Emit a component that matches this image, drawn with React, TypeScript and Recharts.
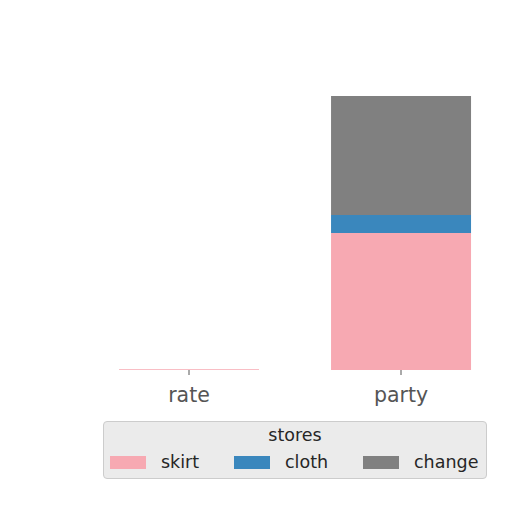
import React from "react";
import { BarChart, Bar, XAxis, YAxis, Legend } from "recharts";

const categories = ["rate", "party"];
const skirt = [0.4, 68.5];
const cloth = [0, 9];
const change = [0, 59.5];

const seriesNames = ["skirt", "cloth", "change"];
const seriesColors = ["#f7a9b2", "#3a87bd", "#808080"];

const data = categories.map((c, i) => ({
  name: c,
  skirt: skirt[i],
  cloth: cloth[i],
  change: change[i],
}));

const font = "'DejaVu Sans', sans-serif";

function LegendBox() {
  return (
    <div
      style={{
        width: 384,
        height: 58,
        background: "#ebebeb",
        border: "1px solid #cccccc",
        borderRadius: 4,
        boxSizing: "border-box",
        fontFamily: font,
        color: "#262626",
        position: "relative",
      }}
    >
      <div style={{ textAlign: "center", fontSize: 17.5, marginTop: 3 }}>stores</div>
      <div style={{ position: "absolute", top: 30, left: 6, display: "flex" }}>
        {seriesNames.map((n, i) => (
          <div key={n} style={{ display: "flex", alignItems: "center", width: i === 0 ? 124 : 129 }}>
            <div style={{ width: 36, height: 13, background: seriesColors[i], marginRight: 15 }} />
            <span style={{ fontSize: 17.5 }}>{n}</span>
          </div>
        ))}
      </div>
    </div>
  );
}

export default function App() {
  return (
    <BarChart
      width={512}
      height={512}
      data={data}
      margin={{ top: 74, right: 13, left: 75, bottom: 62 }}
      barCategoryGap="17%"
    >
      <XAxis
        dataKey="name"
        axisLine={false}
        tickLine={{ stroke: "#555" }}
        tickSize={5}
        height={30}
        tick={{ fill: "#555", fontSize: 20.5, fontFamily: font, dy: 10 }}
      />
      <YAxis hide domain={[0, 144]} />
      <Legend
        content={() => <LegendBox />}
        wrapperStyle={{ position: "absolute", top: 413, left: 95, width: 384 }}
      />
      {seriesNames.map((n, i) => (
        <Bar key={n} dataKey={n} stackId="a" fill={seriesColors[i]} isAnimationActive={false} />
      ))}
    </BarChart>
  );
}
